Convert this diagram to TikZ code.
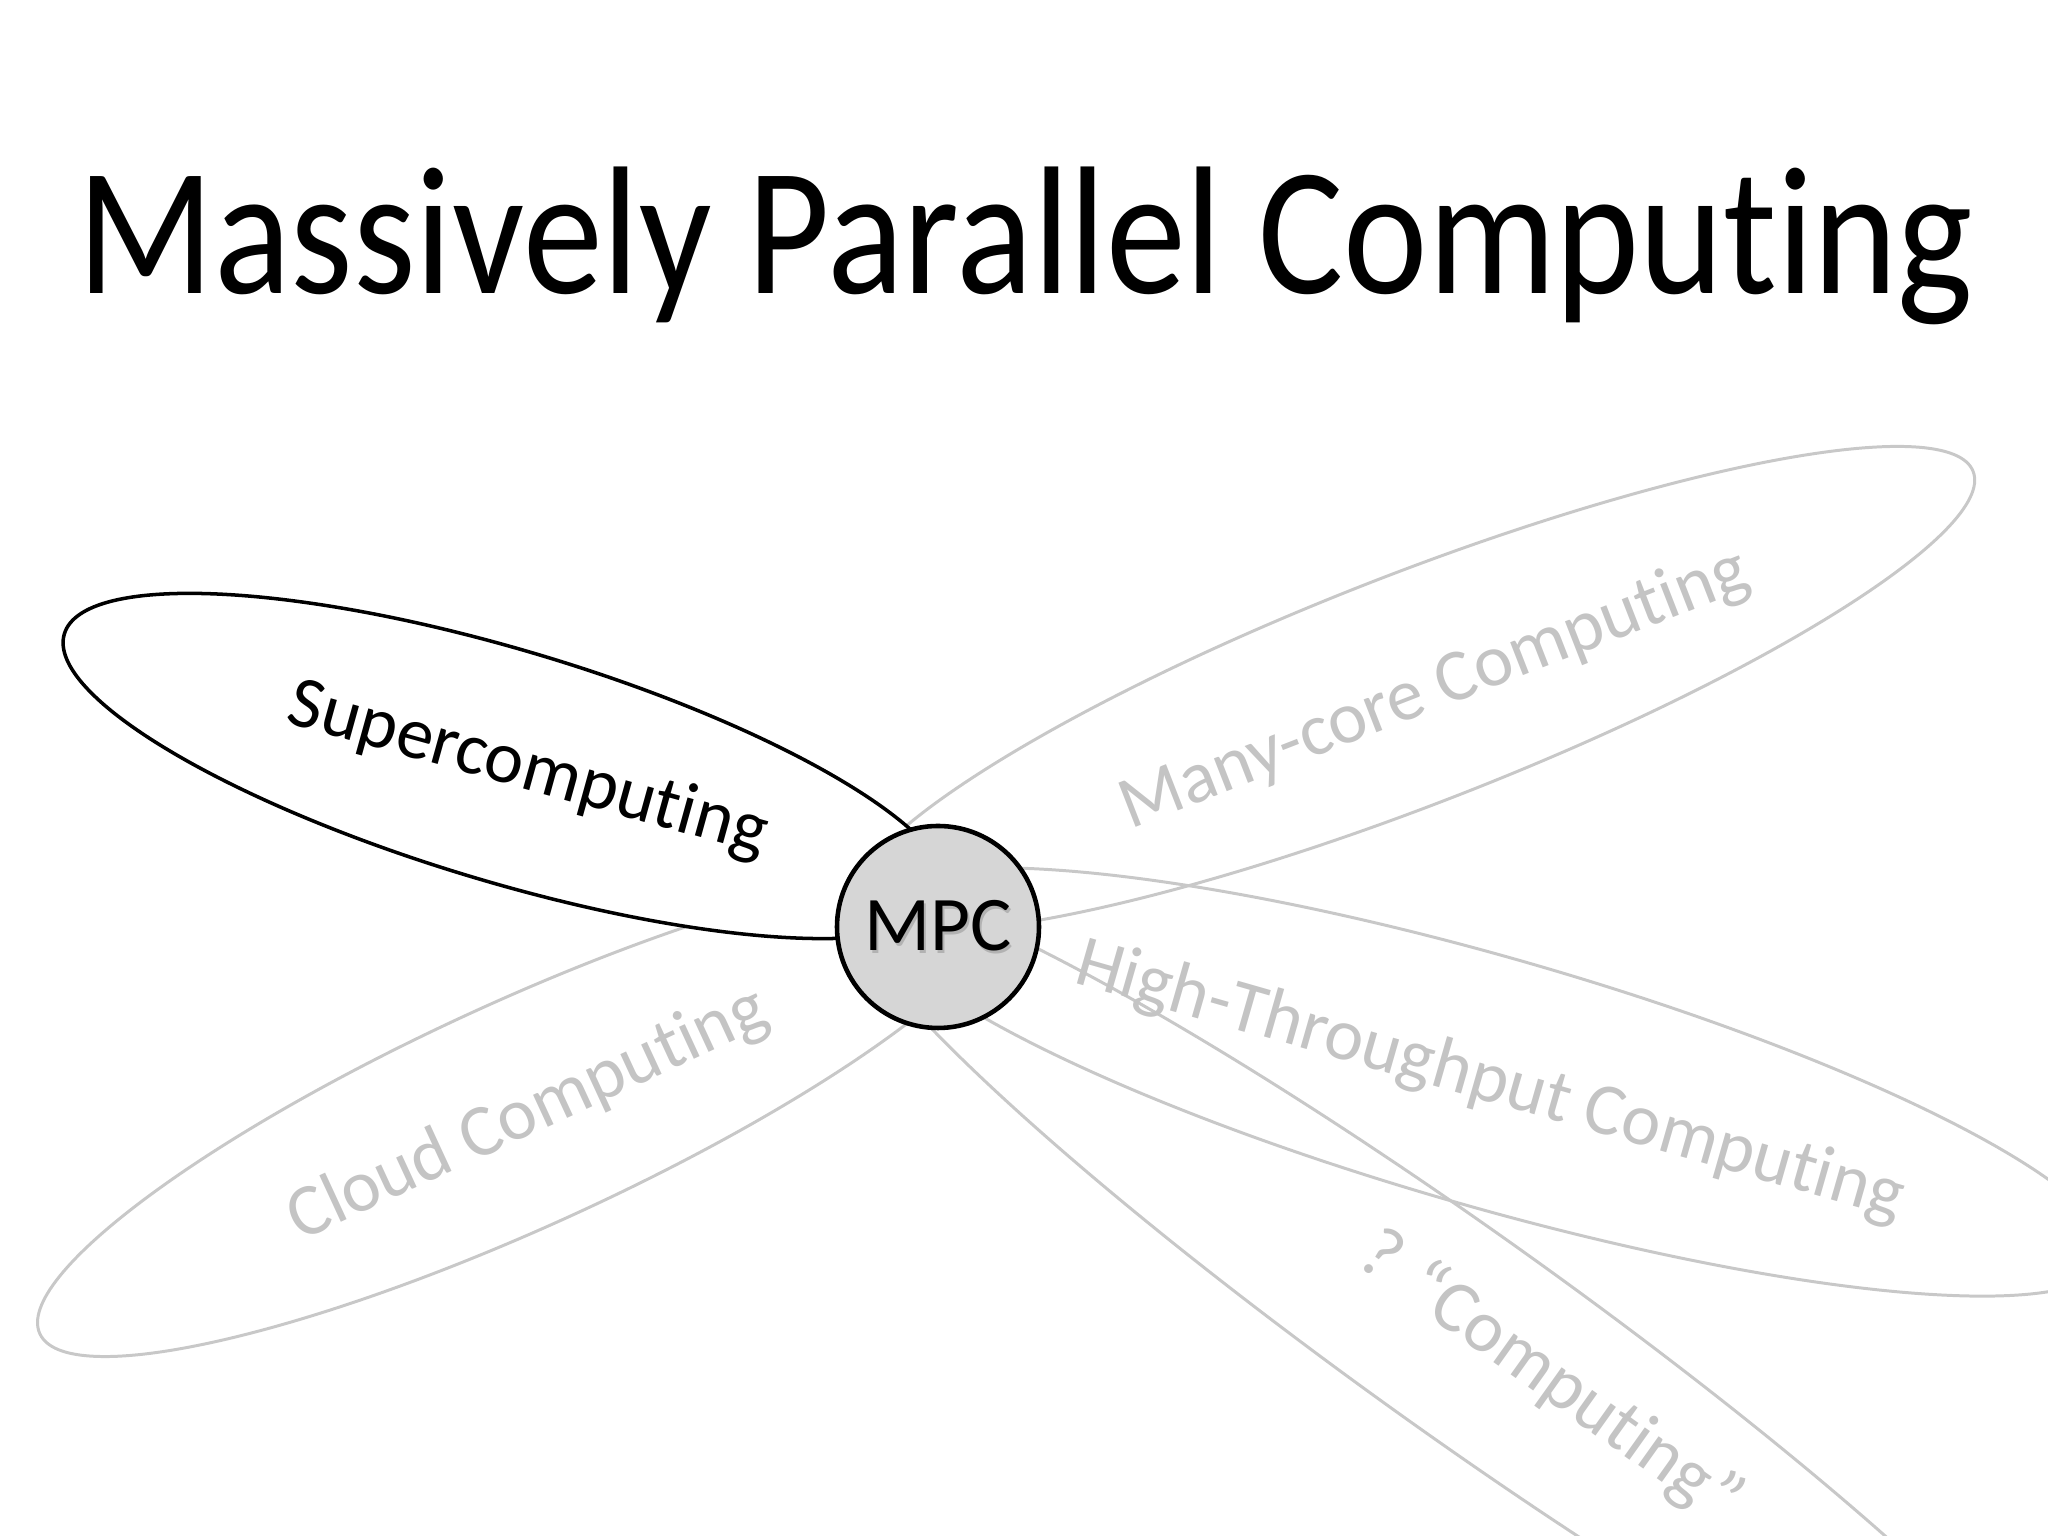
\documentclass[tikz,border=0pt]{standalone}
\usepackage{fontspec}
\setmainfont{Carlito}[Ligatures=NoCommon]
\usepackage{tikz}
\usetikzlibrary{positioning}
\definecolor{petalgray}{HTML}{C8C8C8}
\definecolor{labelgray}{HTML}{C4C4C4}
\definecolor{hubgray}{HTML}{D6D6D6}
\newcommand{\shadowed}[1]{\makebox[0pt][l]{\hspace{0.7pt}\raisebox{-0.7pt}{\textcolor{black!30}{#1}}}#1}

\begin{document}
\begin{tikzpicture}[
    petal/.style={draw=petalgray, line width=0.85pt},
    mainpetal/.style={draw=black, fill=white, line width=1pt},
    hub/.style={circle, draw=black, fill=hubgray, line width=1.3pt, minimum size=2.02cm, inner sep=0pt, font=\fontsize{22}{22}\selectfont},
    tag/.style={font=\fontsize{21}{21}\selectfont, text=labelgray, inner sep=0pt},
    maintag/.style={tag, text=black}
]
\useasboundingbox (0,0) rectangle (20.48,15.36);
\clip (0,0) rectangle (20.48,15.36);

% Title
\node[anchor=base, font=\fontsize{45.5}{50}\selectfont] (title) at (10.255,12.42) {\scalebox{1}[1.14]{Massively Parallel Computing}};

% Grey petals
\draw[petal, rotate around={21.26:(14.14,8.47)}] (14.14,8.47) ellipse (6.00 and 1.15);
\draw[petal, rotate around={24.5:(5.23,4.225)}] (5.23,4.225) ellipse (5.31 and 1.13);
\draw[petal, rotate around={-16:(14.90,4.54)}] (14.90,4.54) ellipse (6.43 and 1.25);
\draw[petal, rotate around={-35.5:(14.63,2.02)}] (14.63,2.02) ellipse (7.54 and 1.02);

% Supercomputing petal (on top, hides the grey lines below it)
\draw[mainpetal, rotate around={-16.65:(5.06,7.70)}] (5.06,7.70) ellipse (4.61 and 1.16);

% Hub
\node[hub] (mpc) at (9.38,6.09) {\shadowed{MPC}};

% Labels
\node[maintag, rotate=-15.5] (super) at (5.28,7.66) {Supercomputing};
\node[tag, rotate=21.3] (manycore) at (14.35,8.46) {Many-core Computing};
\node[tag, rotate=24.8] (cloud) at (5.28,4.21) {Cloud Computing};
\node[tag, rotate=-16] (htc) at (14.90,4.54) {High-Throughput Computing};
\node[tag, rotate=-35.5] (unknown) at (15.50,1.58) {? “Computing”};

\end{tikzpicture}
\end{document}
